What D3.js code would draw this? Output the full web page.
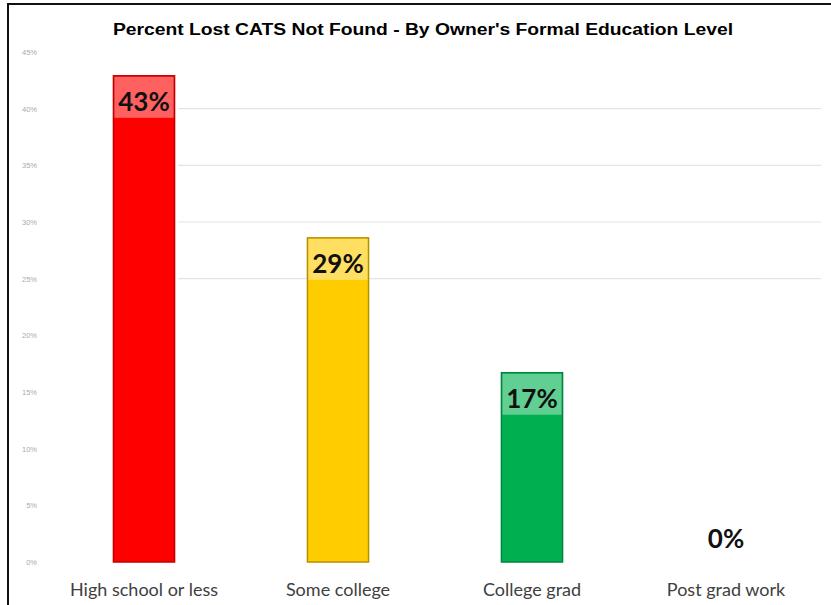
<!DOCTYPE html>
<html>
<head>
<meta charset="utf-8">
<script src="https://d3js.org/d3.v7.min.js"></script>
<style>
  body { margin: 0; background: #fff; }
  #chart { width: 831px; height: 605px; }
</style>
</head>
<body>
<div id="chart"></div>
<script>
// data
var categories = ["High school or less", "Some college", "College grad", "Post grad work"];
var percentNotFound = [42.9, 28.6, 16.7, 0];
var barColors = ["#ff0000", "#ffcc00", "#00b050", "#7f7f7f"];
var barStrokes = ["#c00000", "#b88f00", "#00853c", "#7f7f7f"];
var yTicks = [0, 5, 10, 15, 20, 25, 30, 35, 40, 45];
var gridTicks = [25, 30, 35, 40];

var width = 831, height = 605;
var margin = { top: 52, right: 8, bottom: 43, left: 47 };

var svg = d3.select("#chart").append("svg")
    .attr("width", width)
    .attr("height", height);

// frame lines (left + top)
svg.append("line")
    .attr("x1", 8).attr("x2", 8)
    .attr("y1", 3).attr("y2", height)
    .attr("stroke", "#111").attr("stroke-width", 2);
svg.append("line")
    .attr("x1", 7).attr("x2", width)
    .attr("y1", 4).attr("y2", 4)
    .attr("stroke", "#111").attr("stroke-width", 2);

// title
svg.append("text")
    .attr("x", 423)
    .attr("y", 35)
    .attr("text-anchor", "middle")
    .style("font-family", "'Liberation Sans', Arial, sans-serif")
    .style("font-weight", "bold")
    .style("font-size", "16px")
    .attr("textLength", 620)
    .attr("lengthAdjust", "spacingAndGlyphs")
    .attr("fill", "#000")
    .text("Percent Lost CATS Not Found - By Owner's Formal Education Level");

// scales
var x = d3.scaleBand()
    .domain(categories)
    .range([margin.left, width - margin.left + 39])
    .paddingInner(0.685)
    .paddingOuter(0.3425);

var y = d3.scaleLinear()
    .domain([0, 45])
    .range([562, 52]);

// gridlines
svg.append("g").attr("class", "grid")
    .selectAll("line")
    .data(gridTicks)
    .enter().append("line")
    .attr("x1", 178)
    .attr("x2", 821)
    .attr("y1", function(d) { return y(d); })
    .attr("y2", function(d) { return y(d); })
    .attr("stroke", "#e4e4e4")
    .attr("stroke-width", 1.2);

// y axis
var yAxis = d3.axisLeft(y)
    .tickValues(yTicks)
    .tickSize(0)
    .tickFormat(function(d) { return d + "%"; });

var yg = svg.append("g")
    .attr("class", "y-axis")
    .attr("transform", "translate(37,0)")
    .call(yAxis);
yg.select(".domain").remove();
yg.selectAll("text")
    .attr("x", 0)
    .style("font-family", "'Liberation Sans', Arial, sans-serif")
    .style("font-size", "7.5px")
    .attr("fill", "#aaaaaa");

// x axis labels
var xAxis = d3.axisBottom(x).tickSize(0);
var xg = svg.append("g")
    .attr("class", "x-axis")
    .attr("transform", "translate(0,562)")
    .call(xAxis);
xg.select(".domain").remove();
xg.selectAll("text")
    .attr("y", 34)
    .attr("dy", 0)
    .style("font-family", "Lato, 'Open Sans', sans-serif")
    .style("font-size", "18px")
    .attr("fill", "#404040");

// bars
var bars = svg.selectAll(".bar")
    .data(percentNotFound)
    .enter().append("g")
    .attr("class", "bar");

bars.append("rect")
    .attr("x", function(d, i) { return x(categories[i]); })
    .attr("y", function(d) { return y(d); })
    .attr("width", x.bandwidth())
    .attr("height", function(d) { return y(0) - y(d); })
    .attr("fill", function(d, i) { return barColors[i]; })
    .attr("stroke", function(d, i) { return barStrokes[i]; })
    .attr("stroke-width", function(d) { return d > 0 ? 1.5 : 0; });

// light box behind value label
bars.filter(function(d) { return d > 0; })
    .append("rect")
    .attr("x", function(d, i) { return x(categories[i]) + 1; })
    .attr("y", function(d) { return y(d) + 1; })
    .attr("width", x.bandwidth() - 2)
    .attr("height", 41)
    .attr("fill", "#fff")
    .attr("fill-opacity", 0.38);

bars.append("text")
    .attr("x", function(d, i) { return x(categories[i]) + x.bandwidth() / 2; })
    .attr("y", function(d) { return d > 0 ? y(d) + 35 : y(d) - 14; })
    .attr("text-anchor", "middle")
    .style("font-family", "Lato, 'Open Sans', sans-serif")
    .style("font-weight", "bold")
    .style("font-size", "26px")
    .attr("fill", "#111")
    .text(function(d) { return Math.round(d) + "%"; });
</script>
</body>
</html>
